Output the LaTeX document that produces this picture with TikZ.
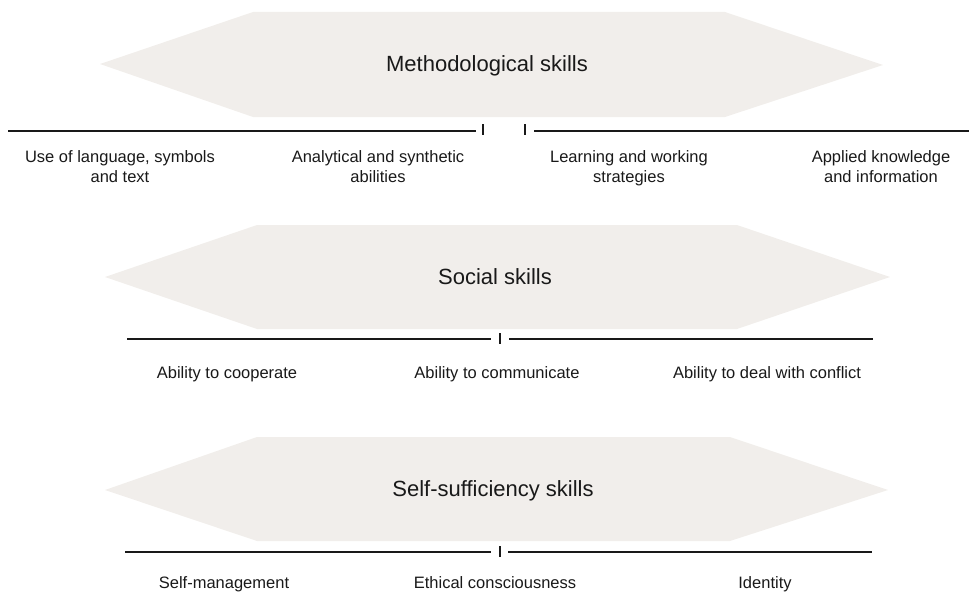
\documentclass[tikz,border=0pt]{standalone}
\usepackage{fontspec}
\setmainfont{Liberation Sans}
\definecolor{bandfill}{RGB}{241,238,235}
\definecolor{inkblack}{RGB}{25,25,25}
\tikzset{
  band/.style={fill=bandfill},
  title/.style={font=\fontsize{22}{26}\selectfont, text=inkblack, anchor=base, inner sep=0pt},
  skill/.style={font=\fontsize{16.5}{20}\selectfont, text=inkblack, align=center, anchor=base, inner sep=0pt},
  rule/.style={line width=2.2pt, draw=inkblack},
  tick/.style={line width=2.2pt, draw=inkblack}
}
\begin{document}
\begin{tikzpicture}[x=1pt, y=-1pt]
\useasboundingbox (0,0) rectangle (969,594);

% methodological skills
\fill[band] (100,64) -- (253,12) -- (725,12) -- (883,65) -- (725,117) -- (253,117) -- cycle;
\node[title] (meth) at (487,72) {Methodological skills};
\draw[rule] (8,131) -- (476,131);
\draw[tick] (483,124) -- (483,135);
\draw[tick] (525,124) -- (525,135);
\draw[rule] (534,131) -- (969,131);
\node[skill] (lang) at (120,182) {Use of language, symbols\\and text};
\node[skill] (anal) at (378,182) {Analytical and synthetic\\abilities};
\node[skill] (learn) at (629,182) {Learning and working\\strategies};
\node[skill] (appl) at (881,182) {Applied knowledge\\and information};

% social skills
\fill[band] (105,277) -- (257,225) -- (737,225) -- (890,277) -- (737,329) -- (257,329) -- cycle;
\node[title] (soc) at (495,284) {Social skills};
\draw[rule] (127,339) -- (491,339);
\draw[tick] (500,333) -- (500,344);
\draw[rule] (509,339) -- (873,339);
\node[skill] (coop) at (227,378) {Ability to cooperate};
\node[skill] (comm) at (497,378) {Ability to communicate};
\node[skill] (confl) at (767,378) {Ability to deal with conflict};

% self-sufficiency skills
\fill[band] (105,490) -- (257,437) -- (730,437) -- (888,490) -- (730,541) -- (257,541) -- cycle;
\node[title] (self) at (493,496) {Self-sufficiency skills};
\draw[rule] (125,552) -- (491,552);
\draw[tick] (500,546) -- (500,557);
\draw[rule] (508,552) -- (872,552);
\node[skill] (mgmt) at (224,588) {Self-management};
\node[skill] (eth) at (495,588) {Ethical consciousness};
\node[skill] (ident) at (765,588) {Identity};
\end{tikzpicture}
\end{document}
